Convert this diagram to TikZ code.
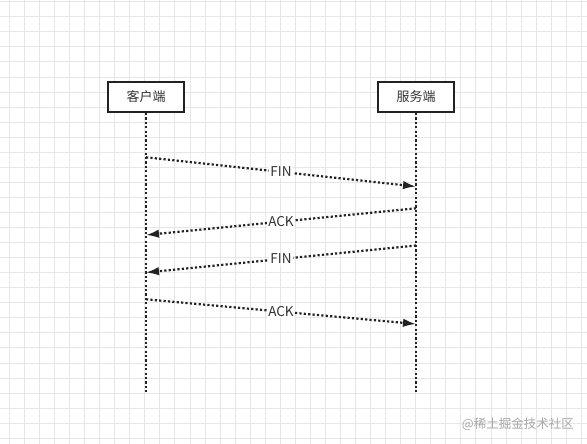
\documentclass[tikz,border=0pt]{standalone}
\usepackage{fontspec}
\setmainfont{Noto Sans CJK SC}
\usetikzlibrary{arrows.meta}
\definecolor{gridc}{HTML}{E6E6E6}
\definecolor{ink}{HTML}{222222}
\definecolor{txt}{HTML}{333333}
\definecolor{wm}{HTML}{A8A8A8}
\tikzset{
  actorbox/.style={draw=ink, line width=2pt, fill=white, minimum width=76pt, minimum height=30pt, inner sep=0pt, font=\fontsize{13}{15}\selectfont, text=txt},
  lifeline/.style={draw=ink, line width=2.2pt, dash pattern=on 2.2pt off 2.2pt},
  msg/.style={draw=ink, line width=2.2pt, dash pattern=on 2.2pt off 2.2pt, -{Latex[length=13pt,width=8.5pt]}},
  lbl/.style={fill=white, inner sep=1pt, font=\fontsize{13.5}{15}\selectfont, text=txt},
}
\begin{document}
\begin{tikzpicture}[x=1pt,y=-1pt]
\useasboundingbox (0,0) rectangle (587,444);
\fill[white] (0,0) rectangle (587,444);
% grid
\foreach \i in {0,...,38} {
  \draw[gridc, line width=0.8pt] ({9.3+15.05*\i},0) -- ({9.3+15.05*\i},444);
}
\foreach \j in {0,...,29} {
  \draw[gridc, line width=0.8pt] (0,{1.7+15.05*\j}) -- (587,{1.7+15.05*\j});
}
% actors
\node[actorbox] (c) at (146,97) {客户端};
\node[actorbox] (s) at (416,97) {服务端};
\coordinate (ce) at (146,393);
\coordinate (se) at (416,393);
\draw[lifeline] (c.south) -- (ce);
\draw[lifeline] (s.south) -- (se);
% message points
\coordinate (c1) at (146,157.3);
\coordinate (s1) at (416,186.5);
\coordinate (s2) at (416,208.3);
\coordinate (c2) at (146,235);
\coordinate (s3) at (416,245.5);
\coordinate (c3) at (146,272.5);
\coordinate (c4) at (146,299.3);
\coordinate (s4) at (416,324);
\draw[msg] (c1) -- node[lbl] {FIN} (s1);
\draw[msg] (s2) -- node[lbl] {ACK} (c2);
\draw[msg] (s3) -- node[lbl] {FIN} (c3);
\draw[msg] (c4) -- node[lbl] {ACK} (s4);
% watermark
\node[anchor=east, text=wm, inner sep=0pt, font=\fontsize{12.5}{14}\selectfont] (wmk) at (574,424) {@稀土掘金技术社区};
\end{tikzpicture}
\end{document}
